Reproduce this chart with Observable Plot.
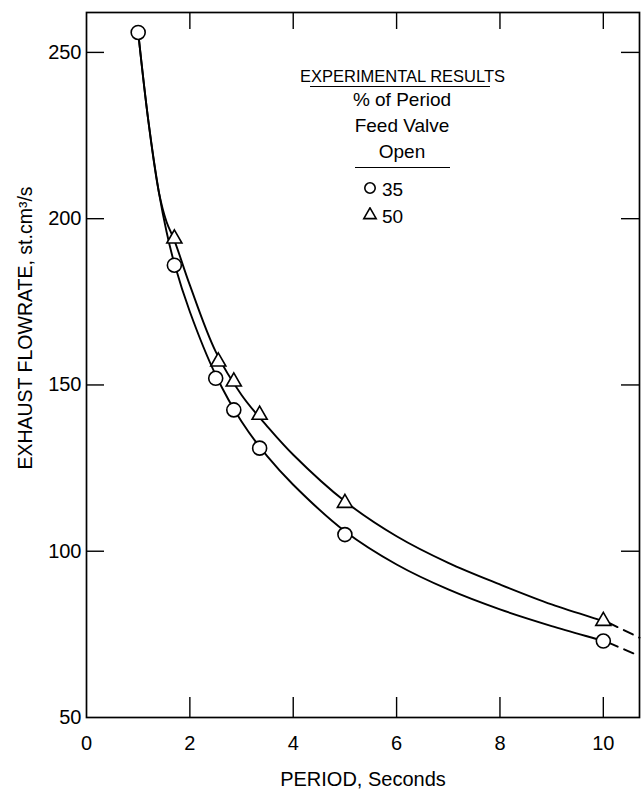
<!DOCTYPE html>
<html><head><meta charset="utf-8">
<script src="https://cdn.jsdelivr.net/npm/d3@7"></script>
<script src="https://cdn.jsdelivr.net/npm/@observablehq/plot@0.6"></script>
<style>
body{margin:0;background:#fff;}
#wrap{position:relative;width:644px;height:794px;background:#fff;}
.f{font-family:"Liberation Sans Narrow","Liberation Sans",Arial,sans-serif;color:#000;}
.abs{position:absolute;}
.ln{position:absolute;height:0;border-top:1.6px solid #000;}
.row{position:absolute;font-size:19px;line-height:26px;white-space:nowrap;}
</style></head>
<body>
<div id="wrap" class="f"></div>
<script>
// Experimental points
const period35 = [1.0, 1.7, 2.5, 2.85, 3.35, 5.0, 10.0];
const flow35   = [256, 186, 152, 142.5, 131, 105, 73];
const period50 = [1.7, 2.55, 2.85, 3.35, 5.0, 10.0];
const flow50   = [194, 157, 151, 141, 114.5, 79];
// Faired curves
const curvePeriod = [1.0, 1.2, 1.4, 1.55, 1.7, 2.0, 2.5, 3.0, 3.5, 4.0, 5.0, 6.0, 7.0, 8.0, 9.0, 10.0, 10.1];
const curve35 = [256, 229, 208, 196, 186.5, 172, 153, 139, 128.5, 120, 106, 96, 88.5, 82.5, 77.5, 73, 72.5];
const curve50 = [256, 229, 208, 199, 193.5, 180, 160, 147, 137.5, 129, 115, 104.5, 96.5, 90, 84, 79, 78.5];
// Dashed extrapolation
const extPeriod = [10.1, 10.7];
const ext35 = [72.5, 68.5];
const ext50 = [78.5, 74];
// Ticks
const xTicks = [0, 2, 4, 6, 8, 10];
const yTicks = [50, 100, 150, 200, 250];
const xTitle = "PERIOD, Seconds";
const yTitle = "EXHAUST FLOWRATE, st.cm³/s";
const legendTitle = "EXPERIMENTAL RESULTS";
const legendHead = ["% of Period", "Feed Valve", "Open"];
const legendItems = ["35", "50"];

const pts35 = period35.map((x, i) => ({x, y: flow35[i]}));
const pts50 = period50.map((x, i) => ({x, y: flow50[i]}));
const c35 = curvePeriod.map((x, i) => ({x, y: curve35[i]}));
const c50 = curvePeriod.map((x, i) => ({x, y: curve50[i]}));
const e35 = extPeriod.map((x, i) => ({x, y: ext35[i]}));
const e50 = extPeriod.map((x, i) => ({x, y: ext50[i]}));

const W = 644, H = 794, mL = 86, mR = 5, mT = 12, mB = 77;
const fw = W - mL - mR, fh = H - mT - mB;
const font = '"Liberation Sans Narrow","Liberation Sans",Arial,sans-serif';
const chart = Plot.plot({
  width: W, height: H,
  marginLeft: mL, marginRight: mR, marginTop: mT, marginBottom: mB,
  style: {fontFamily: font, fontSize: "20px", background: "white", color: "black"},
  x: {domain: [0, 10.7]},
  y: {domain: [50, 262]},
  marks: [
    Plot.axisX({anchor: "bottom", ticks: xTicks, tickSize: 0, tickPadding: 18, tickFormat: d => String(d), label: null}),
    Plot.axisY({anchor: "left", ticks: yTicks, tickSize: 0, tickPadding: 5, tickFormat: d => String(d), label: null}),
    // inward ticks on all four sides
    Plot.tickY(yTicks.slice(1), {y: d => d, insetRight: fw - 18, stroke: "black", strokeWidth: 1.4}),
    Plot.tickY(yTicks.slice(1), {y: d => d, insetLeft: fw - 18, stroke: "black", strokeWidth: 1.4}),
    Plot.tickX(xTicks.slice(1), {x: d => d, insetTop: fh - 20, stroke: "black", strokeWidth: 1.4}),
    Plot.tickX(xTicks.slice(1), {x: d => d, insetBottom: fh - 17, stroke: "black", strokeWidth: 1.4}),
    Plot.frame({stroke: "black", strokeWidth: 1.7}),
    Plot.line(c35, {x: "x", y: "y", curve: "catmull-rom", stroke: "black", strokeWidth: 1.9}),
    Plot.line(c50, {x: "x", y: "y", curve: "catmull-rom", stroke: "black", strokeWidth: 1.9}),
    Plot.line(e35, {x: "x", y: "y", stroke: "black", strokeWidth: 2, strokeDasharray: "10,7"}),
    Plot.line(e50, {x: "x", y: "y", stroke: "black", strokeWidth: 2, strokeDasharray: "10,7"}),
    Plot.dot(pts35, {x: "x", y: "y", r: 7, stroke: "black", fill: "white", strokeWidth: 1.6}),
    Plot.dot(pts50, {x: "x", y: "y", symbol: "triangle", r: 5.6, stroke: "black", fill: "white", strokeWidth: 1.6})
  ]
});
const wrap = document.getElementById("wrap");
wrap.appendChild(chart);

function add(html){ const d = document.createElement("div"); d.innerHTML = html; wrap.appendChild(d.firstElementChild); }
// Axis titles
add(`<div class="abs" style="left:263px;top:768px;width:200px;text-align:center;font-size:20px;line-height:22px;white-space:nowrap;">${xTitle}</div>`);
add(`<div class="abs" style="left:${25 - 170}px;top:${328 - 10}px;width:340px;text-align:center;font-size:19.5px;line-height:20px;white-space:nowrap;transform:rotate(-90deg);transform-origin:50% 50%;">${yTitle}</div>`);
// Legend
add(`<div class="row" style="left:300px;top:63px;width:200px;text-align:center;font-size:16.5px;">${legendTitle}</div>`);
add(`<div class="ln" style="left:310px;top:86px;width:180px;"></div>`);
legendHead.forEach((t, i) => add(`<div class="row" style="left:342px;top:${87 + i * 26}px;width:120px;text-align:center;">${t}</div>`));
add(`<div class="ln" style="left:355px;top:167px;width:95px;"></div>`);
const icons = [
  `<svg width="16" height="16" viewBox="-8 -8 16 16"><circle r="5.2" fill="white" stroke="black" stroke-width="1.6"/></svg>`,
  `<svg width="16" height="16" viewBox="-8 -8 16 16"><path d="${d3.symbol(d3.symbolTriangle, Math.PI * 4.6 * 4.6)()}" fill="white" stroke="black" stroke-width="1.6"/></svg>`
];
legendItems.forEach((t, i) => {
  const cy = 188 + i * 27;
  add(`<div class="abs" style="left:362px;top:${cy - 8}px;width:16px;height:16px;">${icons[i]}</div>`);
  add(`<div class="row" style="left:382px;top:${cy - 11}px;">${t}</div>`);
});
</script>
</body></html>
